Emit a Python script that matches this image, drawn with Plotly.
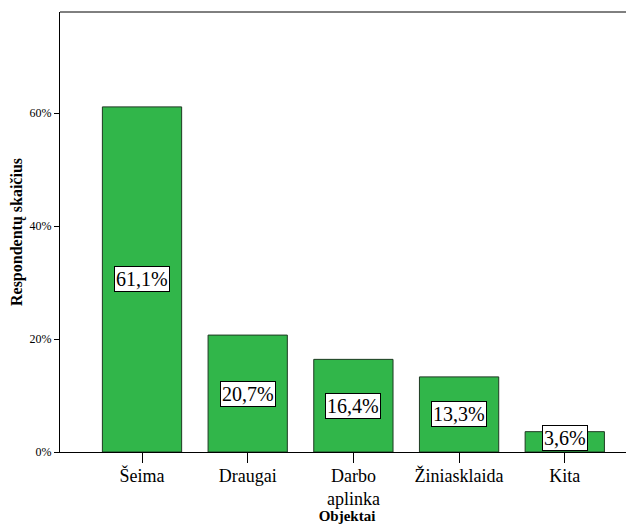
import plotly.graph_objects as go

categories = ["Šeima", "Draugai", "Darbo<br>aplinka", "Žiniasklaida", "Kita"]
values = [61.1, 20.7, 16.4, 13.3, 3.6]
labels = ["61,1%", "20,7%", "16,4%", "13,3%", "3,6%"]
ytick_vals = [0, 20, 40, 60]
ytick_text = ["0%", "20%", "40%", "60%"]

SERIF = "Times New Roman, Liberation Serif, serif"
x_idx = list(range(len(categories)))

fig = go.Figure()
fig.add_trace(go.Bar(
    x=x_idx, y=values, width=0.75,
    marker=dict(color="#31b64a", line=dict(color="#1e3a22", width=1)),
    hoverinfo="skip",
))

for xi, v, lab in zip(x_idx, values, labels):
    fig.add_annotation(
        x=xi, y=max(v / 2, 2.55), text=lab, showarrow=False,
        font=dict(family=SERIF, size=20, color="black"),
        bgcolor="white", bordercolor="black", borderwidth=1, borderpad=1,
    )

fig.add_shape(type="line", xref="paper", yref="paper", x0=0, x1=1, y0=1, y1=1,
              line=dict(color="black", width=1))

fig.update_layout(
    width=626, height=516,
    margin=dict(l=52, r=0, t=4, b=72),
    paper_bgcolor="white", plot_bgcolor="white",
    showlegend=False,
    font=dict(family=SERIF, color="black"),
    xaxis=dict(
        range=[-0.776, 4.655], tickvals=x_idx, ticktext=categories,
        showline=True, linecolor="black", linewidth=1,
        ticks="outside", ticklen=10, tickcolor="black",
        ticklabelstandoff=-3,
        tickfont=dict(family=SERIF, size=18, color="black"),
        showgrid=False, zeroline=False,
        title=dict(text="<b>Objektai</b>", standoff=2,
                   font=dict(family=SERIF, size=15, color="black")),
        automargin=False,
    ),
    yaxis=dict(
        range=[0, 77.9], tickvals=ytick_vals, ticktext=ytick_text,
        showline=True, linecolor="black", linewidth=1,
        ticks="outside", ticklen=5, tickcolor="black",
        tickfont=dict(family=SERIF, size=12, color="black"),
        showgrid=False, zeroline=False,
        title=dict(text="<b>Respondentų skaičius</b>", standoff=4,
                   font=dict(family=SERIF, size=16, color="black")),
        automargin=False,
    ),
)

fig.write_html("out.html")
